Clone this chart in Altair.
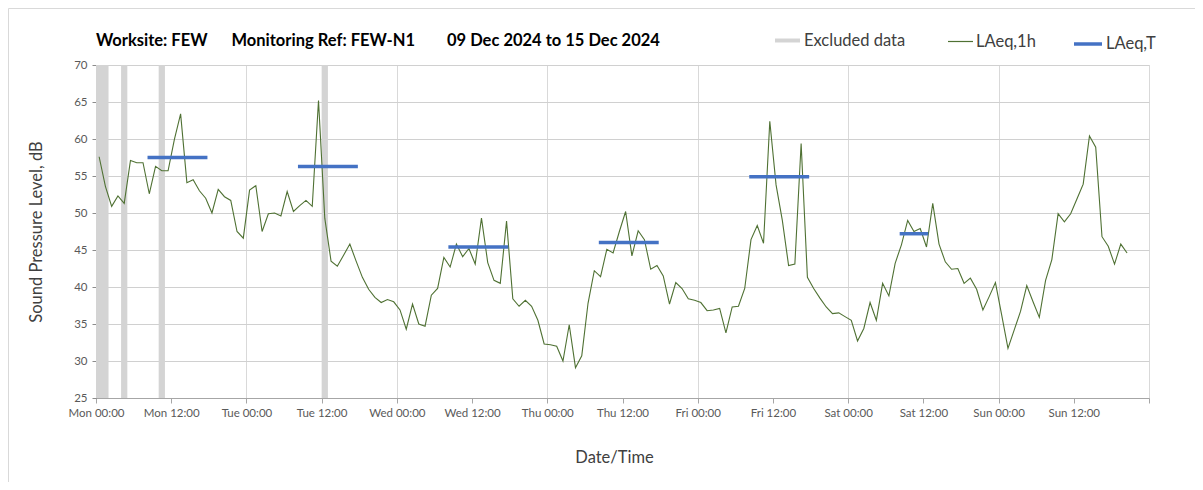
import altair as alt
import pandas as pd

FONT = "Lato"

# Hourly LAeq,1h values (dB), one per hour starting Mon 09 Dec 2024 00:00
laeq_1h = [
    57.6, 53.6, 50.9, 52.3, 51.3, 57.1, 56.8, 56.8, 52.6, 56.3, 55.7, 55.7,
    59.9, 63.4, 54.1, 54.5, 53.0, 52.0, 50.0, 53.2, 52.2, 51.7, 47.5, 46.6,
    53.1, 53.7, 47.5, 49.9, 50.0, 49.6, 52.9, 50.2, 51.0, 51.7, 50.9, 65.2,
    49.3, 43.5, 42.8, 44.3, 45.8, 43.5, 41.3, 39.7, 38.6, 37.9, 38.3, 38.0,
    36.9, 34.3, 37.7, 35.0, 34.7, 38.9, 39.8, 44.0, 42.7, 45.8, 44.1, 45.2,
    43.1, 49.3, 43.3, 40.9, 40.5, 48.9, 38.4, 37.4, 38.2, 37.4, 35.5, 32.3,
    32.2, 32.0, 30.0, 34.9, 29.1, 30.7, 37.8, 42.2, 41.4, 45.1, 44.6, 47.5,
    50.2, 44.2, 47.6, 46.4, 42.4, 42.9, 41.5, 37.7, 40.6, 39.8, 38.4, 38.2,
    37.9, 36.8, 36.9, 37.1, 33.8, 37.3, 37.4, 39.8, 46.4, 48.3, 45.9, 62.4,
    53.8, 49.0, 42.9, 43.1, 59.4, 41.3, 39.8, 38.5, 37.3, 36.4, 36.5, 36.0,
    35.5, 32.7, 34.4, 37.9, 35.5, 40.5, 38.8, 43.2, 45.7, 49.0, 47.5, 47.9,
    45.4, 51.3, 45.8, 43.4, 42.4, 42.5, 40.5, 41.2, 39.7, 36.9, 38.7, 40.6,
    36.2, 31.7, 34.2, 36.7, 40.2, 38.0, 35.9, 40.9, 43.7, 49.9, 48.8, 49.9,
    51.9, 53.9, 60.4, 58.9, 46.8, 45.5, 43.1, 45.8, 44.6,
]

# Excluded data periods
excl_start = ["2024-12-09T00:00:00Z", "2024-12-09T04:00:00Z",
              "2024-12-09T10:00:00Z", "2024-12-10T12:00:00Z"]
excl_end = ["2024-12-09T02:00:00Z", "2024-12-09T05:00:00Z",
            "2024-12-09T11:00:00Z", "2024-12-10T13:00:00Z"]

# LAeq,T period levels (drawn across the hourly points of each period)
laeqT_start = ["2024-12-09T08:30:00Z", "2024-12-10T08:30:00Z", "2024-12-11T08:30:00Z",
               "2024-12-12T08:30:00Z", "2024-12-13T08:30:00Z", "2024-12-14T08:30:00Z"]
laeqT_end = ["2024-12-09T17:30:00Z", "2024-12-10T17:30:00Z", "2024-12-11T17:30:00Z",
             "2024-12-12T17:30:00Z", "2024-12-13T17:30:00Z", "2024-12-14T12:30:00Z"]
laeqT = [57.5, 56.3, 45.4, 46.0, 54.9, 47.2]

y_ticks = [25, 30, 35, 40, 45, 50, 55, 60, 65, 70]

t0 = pd.Timestamp("2024-12-09T00:30:00", tz="UTC")
times = [(t0 + pd.Timedelta(hours=i)).strftime("%Y-%m-%dT%H:%M:%SZ") for i in range(len(laeq_1h))]

df_line = pd.DataFrame({"t": times, "v": laeq_1h, "series": "LAeq,1h"})
df_ex = pd.DataFrame({"start": excl_start, "end": excl_end, "series": "Excluded data"})
df_T = pd.DataFrame({"start": laeqT_start, "end": laeqT_end, "v": laeqT, "series": "LAeq,T"})

tick_ts = pd.date_range("2024-12-09", periods=15, freq="12h", tz="UTC")
tick_vals = [int(t.value // 10**6) for t in tick_ts]
x_lo = int(pd.Timestamp("2024-12-09", tz="UTC").value // 10**6)
x_hi = int(pd.Timestamp("2024-12-16", tz="UTC").value // 10**6)

W, H = 1053, 333
PAD_L, PAD_T = 88, 57

xscale = alt.Scale(type="utc", domain=[x_lo, x_hi], nice=False)
xaxis = alt.Axis(
    values=tick_vals,
    labelExpr=f"datum.value >= {x_hi} ? '' : utcFormat(datum.value, '%a %H:%M')",
    labelFont=FONT, labelFontSize=11.5, labelColor="#595959", labelPadding=4,
    labelOverlap=False, labelFlush=False,
    tickSize=5, tickColor="#a6a6a6", domainColor="#a6a6a6",
    gridColor="#d9d9d9",
    gridOpacity={"condition": {"test": "utchours(datum.value) == 0", "value": 1}, "value": 0},
    title="Date/Time", titleFont=FONT, titleFontSize=16.5, titleFontWeight="normal",
    titleColor="#404040", titlePadding=31, titleX=518,
)
yscale = alt.Scale(domain=[25, 70], nice=False, zero=False)
yaxis = alt.Axis(
    values=y_ticks, labelFont=FONT, labelFontSize=11.5, labelColor="#595959", labelPadding=5,
    labelOverlap=False, grid=True,
    tickSize=4, tickColor="#8c8c8c", domainColor="#8c8c8c", gridColor="#d0d0d0",
    title="Sound Pressure Level, dB", titleFont=FONT, titleFontSize=16.5,
    titleFontWeight="normal", titleColor="#404040", titlePadding=29,
)

LEG_Y = -37
leg_common = dict(title=None, orient="none", legendY=LEG_Y, labelFont=FONT,
                  labelFontSize=16.5, labelColor="#404040", padding=0)

# light frame around the whole chart area
frame = alt.Chart(pd.DataFrame({"f": [0]})).mark_rect(
    fill="white", fillOpacity=0, stroke="#d9d9d9", strokeWidth=1
).encode(
    x=alt.value(0.5 - PAD_L), x2=alt.value(1240),
    y=alt.value(0.5 - PAD_T), y2=alt.value(520),
)

excl = alt.Chart(df_ex).mark_rect().encode(
    x=alt.X("start:T", scale=xscale, axis=xaxis),
    x2="end:T",
    y=alt.YDatum(70, scale=yscale, axis=yaxis),
    y2=alt.Y2Datum(25),
    fill=alt.Fill("series:N", scale=alt.Scale(domain=["Excluded data"], range=["#d4d4d4"]),
                  legend=alt.Legend(legendX=679, symbolType="M-1,-0.16H1V0.16H-1Z",
                                    symbolSize=625, symbolStrokeWidth=0, labelOffset=4,
                                    **leg_common)),
)

line = alt.Chart(df_line).mark_line(strokeWidth=1.1).encode(
    x=alt.X("t:T", scale=xscale, axis=xaxis),
    y=alt.Y("v:Q", scale=yscale, axis=yaxis),
    stroke=alt.Stroke("series:N", scale=alt.Scale(domain=["LAeq,1h"], range=["#4f7133"]),
                      legend=alt.Legend(legendX=851, symbolType="stroke", symbolSize=625,
                                        symbolStrokeWidth=1.2, labelOffset=2, **leg_common)),
)

rule = alt.Chart(df_T).mark_rule(strokeWidth=3.5, strokeCap="square").encode(
    x=alt.X("start:T", scale=xscale, axis=xaxis),
    x2="end:T",
    y=alt.Y("v:Q", scale=yscale, axis=yaxis),
    color=alt.Color("series:N", scale=alt.Scale(domain=["LAeq,T"], range=["#4472c4"]),
                    legend=alt.Legend(legendX=976, symbolType="stroke", symbolSize=784,
                                      symbolStrokeWidth=3.5, labelOffset=2, **leg_common)),
)

NB = "\u00a0"
title_text = ("Worksite: FEW" + NB * 6 + "Monitoring Ref: FEW-N1" + NB * 8
              + "09 Dec 2024 to 15 Dec 2024")

chart = alt.layer(frame, excl, line, rule).properties(
    width=W, height=H,
    title=alt.Title(title_text, anchor="start", frame="group", font=FONT, fontSize=16.5,
                    fontWeight="bold", color="#000000", offset=22, dy=63),
    padding={"left": PAD_L, "top": PAD_T, "right": 46, "bottom": 84},
    autosize=alt.AutoSizeParams(type="none"),
).configure_view(
    stroke="#a6a6a6", strokeWidth=1
).configure(background="white")

chart.save("out.html", embed_options={"renderer": "svg", "actions": False})
